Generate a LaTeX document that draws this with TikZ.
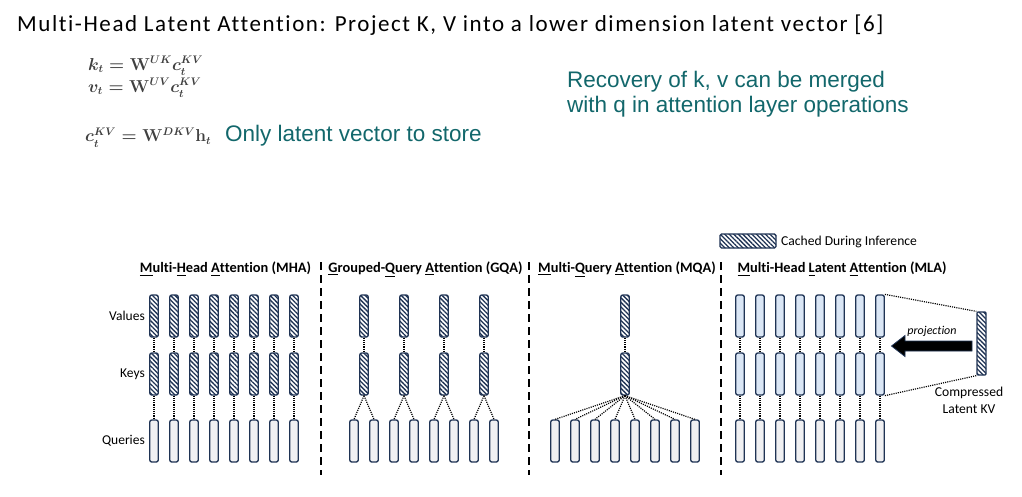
\documentclass[tikz,border=0pt]{standalone}
\usepackage{fontspec}
\usepackage{amsmath,bm}
\setmainfont{Carlito}[Ligatures=NoCommon]
\newfontfamily\arialfont{Liberation Sans}
\usetikzlibrary{patterns.meta}
\definecolor{navy}{HTML}{1F3354}
\definecolor{qfill}{HTML}{F0F0F2}
\definecolor{lfill}{HTML}{DAE6F5}
\definecolor{teal}{HTML}{12676B}
\definecolor{eqgray}{HTML}{404040}
\tikzset{
  vec/.style={draw=navy, line width=1.3pt, rounded corners=2pt, minimum width=8.5pt, minimum height=42pt, inner sep=0pt},
  hatched/.style={vec, preaction={fill=white}, pattern={Lines[angle=-45,distance=3.2pt,line width=1.3pt]}, pattern color=navy},
  qvec/.style={vec, fill=qfill},
  lvec/.style={vec, fill=lfill},
  link/.style={line width=1.2pt, dash pattern=on 1.1pt off 1.1pt},
  divider/.style={line width=2pt, dash pattern=on 8pt off 5pt},
  lbl/.style={font=\fontsize{13.5}{15}\selectfont, anchor=east, inner sep=0pt},
  sect/.style={font=\fontsize{14.4}{16}\selectfont\bfseries, inner sep=0pt},
  eq/.style={anchor=base west, inner sep=0pt, text=eqgray, font=\fontsize{16}{18}\selectfont\boldmath},
  green/.style={anchor=base west, inner sep=0pt, text=teal, font=\arialfont\fontsize{22.5}{25}\selectfont},
}
\begin{document}
\begin{tikzpicture}[x=1pt,y=-1pt]
\useasboundingbox (0,0) rectangle (1022,496);
% title
\node[anchor=base west, inner sep=0pt, font=\fontsize{23}{26}\selectfont\addfontfeature{LetterSpace=6.8}] (title) at (17,31.3) {Multi-Head Latent Attention: Project K, V into a lower dimension latent vector [6]};
% equations
\node[eq] (eq1) at (88,70) {$\bm{k}_t = \mathbf{W}^{UK}\bm{c}_t^{KV}$};
\node[eq] (eq2) at (88,92) {$\bm{v}_t = \mathbf{W}^{UV}\bm{c}_t^{KV}$};
\node[eq] (eq3) at (85,141.7) {$\bm{c}_t^{KV} = \mathbf{W}^{DKV}\mathbf{h}_t$};
\node[green] (store) at (225,141.7) {Only latent vector to store};
\node[green] (recov1) at (567,87.3) {Recovery of k, v can be merged};
\node[green] (recov2) at (567,112.3) {with q in attention layer operations};
% legend
\node[hatched, minimum width=56pt, minimum height=14pt, rounded corners=1.5pt] (leg) at (748,241) {};
\node[anchor=west, inner sep=0pt, font=\fontsize{13.6}{15}\selectfont] (legt) at (781,242) {Cached During Inference};
% section titles
\node[sect] (tMHA) at (225.5,269) {\underline{M}ulti-\underline{H}ead \underline{A}ttention (MHA)};
\node[sect] (tGQA) at (425.5,269) {\underline{G}rouped-\underline{Q}uery \underline{A}ttention (GQA)};
\node[sect] (tMQA) at (627,269) {\underline{M}ulti-\underline{Q}uery \underline{A}ttention (MQA)};
\node[sect] (tMLA) at (842,269) {\underline{M}ulti-Head \underline{L}atent \underline{A}ttention (MLA)};
% dividers
\foreach \x/\n in {321/a,529/b,721/c} {
  \coordinate (d\n1) at (\x,262);
  \coordinate (d\n2) at (\x,475);
  \draw[divider] (d\n1) -- (d\n2);
}
% row labels
\node[lbl] (lv) at (145,316) {Values};
\node[lbl] (lk) at (145,374) {Keys};
\node[lbl] (lq) at (145,441) {Queries};
% MHA
\foreach \i in {1,...,8} {
  \pgfmathsetmacro{\x}{154+20*(\i-1)}
  \node[hatched] (mv\i) at (\x,316) {};
  \node[hatched] (mk\i) at (\x,374) {};
  \node[qvec] (mq\i) at (\x,441) {};
  \draw[link] (mv\i.south) -- (mk\i.north);
  \draw[link] (mk\i.south) -- (mq\i.north);
}
% GQA
\foreach \i in {1,...,4} {
  \pgfmathsetmacro{\x}{364+40*(\i-1)}
  \node[hatched] (gv\i) at (\x,316) {};
  \node[hatched] (gk\i) at (\x,374) {};
  \draw[link] (gv\i.south) -- (gk\i.north);
}
\foreach \i in {1,...,8} {
  \pgfmathsetmacro{\x}{354+20*(\i-1)}
  \node[qvec] (gq\i) at (\x,441) {};
  \pgfmathtruncatemacro{\g}{int((\i+1)/2)}
  \draw[link] (gk\g.south) -- (gq\i.north);
}
% MQA
\node[hatched] (qv) at (625,316) {};
\node[hatched] (qk) at (625,374) {};
\draw[link] (qv.south) -- (qk.north);
\foreach \i in {1,...,8} {
  \pgfmathsetmacro{\x}{555+20*(\i-1)}
  \node[qvec] (qq\i) at (\x,441) {};
  \draw[link] (qk.south) -- (qq\i.north);
}
% MLA
\foreach \i in {1,...,8} {
  \pgfmathsetmacro{\x}{740+20*(\i-1)}
  \node[lvec] (lv\i) at (\x,316) {};
  \node[lvec] (lk\i) at (\x,374) {};
  \node[qvec] (lq\i) at (\x,441) {};
  \draw[link] (lv\i.south) -- (lk\i.north);
  \draw[link] (lk\i.south) -- (lq\i.north);
}
\node[hatched, minimum height=63pt, minimum width=9pt, rounded corners=1pt] (lat) at (981.5,343.5) {};
\draw[link] (lv8.north east) -- (lat.north west);
\draw[link] (lk8.south east) -- (lat.south west);
\draw[draw=navy, fill=black, line width=0.8pt] (972,341) -- (905,341) -- (905,335.5) -- (891.5,346) -- (905,356.5) -- (905,351) -- (972,351) -- cycle;
\node[inner sep=0pt, font=\fontsize{12}{13}\selectfont\itshape] (proj) at (932,331) {projection};
\node[inner sep=0pt, font=\fontsize{13.6}{16.5}\selectfont, align=center] (latl) at (969,400.5) {Compressed\\Latent KV};
\end{tikzpicture}
\end{document}
